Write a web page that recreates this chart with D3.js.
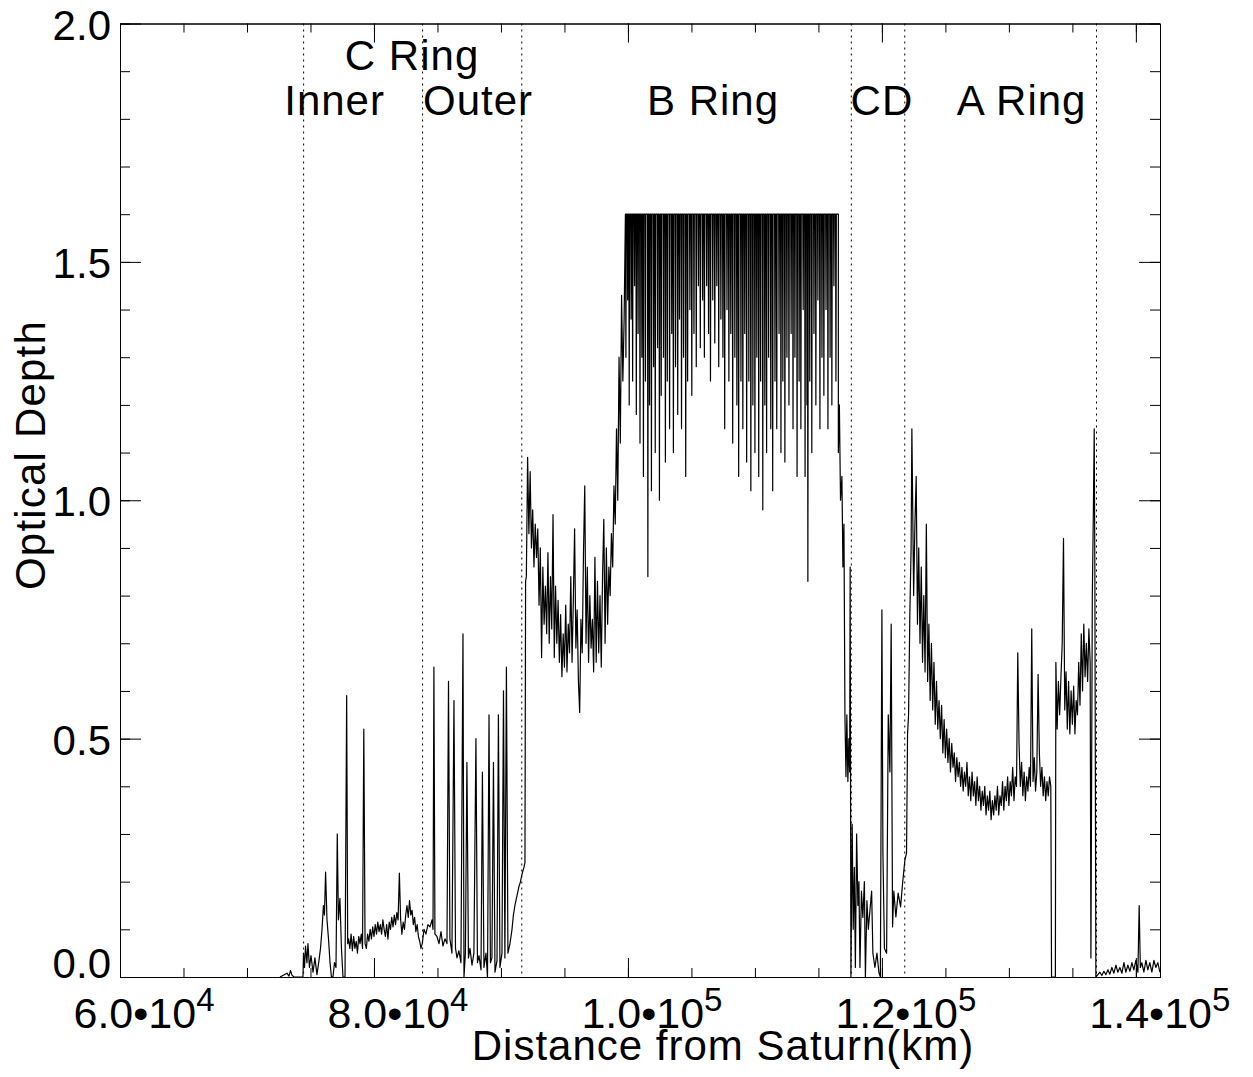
<!DOCTYPE html>
<html>
<head>
<meta charset="utf-8">
<script src="https://cdn.jsdelivr.net/npm/d3@7"></script>
<style>
  body { margin: 0; background: #fff; }
  text { font-family: "Liberation Sans", Arial, Helvetica, sans-serif; fill: #000; }
</style>
</head>
<body>
<div id="chart"></div>
<script>
// radius from Saturn in 1000 km, optical depth
var preRing = [[72.60,0],[73.15,0.008],[73.31,0.002],[73.43,0.014],[73.54,0.004],[73.70,0],[74.41,0]];

var cRingInner = [[74.45,0.05],[74.53,0.02],[74.61,0.065],[74.72,0.03],[74.80,0.07],[74.92,0.02],[75.04,0.045],[75.20,0.01],
  [75.35,0.04],[75.51,0.005],[75.67,0.035],[75.79,0.06],[75.91,0.10],[76.02,0.15],[76.10,0.13],[76.19,0.22],[76.30,0.12],
  [76.42,0.08],[76.54,0.03],[76.65,0],[76.77,0],[76.89,0.03],[77.01,0.02],[77.11,0.30],[77.20,0.12],[77.32,0.165],[77.44,0.06],
  [77.56,0],[77.72,0],[77.85,0.59],[77.93,0.07],
  [78.0,0.08],[78.1,0.06],[78.2,0.09],[78.3,0.055],[78.4,0.085],[78.5,0.06],[78.6,0.075],[78.7,0.05],[78.8,0.085],[78.9,0.07],
  [79.0,0.09],[79.1,0.06],[79.2,0.52],[79.3,0.07],[79.4,0.06],[79.5,0.09],[79.6,0.075],[79.7,0.10],[79.8,0.08],[79.9,0.105],
  [80.0,0.085],[80.1,0.11],[80.2,0.09],[80.3,0.115],[80.4,0.095],[80.5,0.11],[80.6,0.09],[80.7,0.12],[80.8,0.10],[80.9,0.085],
  [81.0,0.11],[81.1,0.08],[81.2,0.115],[81.3,0.10],[81.4,0.125],[81.5,0.105],[81.6,0.13],[81.7,0.11],[81.8,0.135],[81.9,0.12],
  [82.0,0.218],[82.1,0.12],[82.2,0.09],[82.3,0.115],[82.4,0.10],[82.5,0.13],[82.6,0.15],[82.7,0.125],[82.8,0.16],[82.9,0.13],
  [83.0,0.14],[83.1,0.11],[83.2,0.125],[83.3,0.095],[83.4,0.11],[83.5,0.085],[83.6,0.075],[83.7,0.06],[83.8,0.07]];

var cRingOuter = [[83.94,0.10],[84.09,0.09],[84.25,0.11],[84.41,0.105],[84.57,0.12],[84.65,0.10],[84.72,0.65],[84.80,0.09],
  [84.96,0.085],[85.12,0.07],[85.28,0.095],[85.43,0.065],[85.59,0.08],[85.75,0.07],[85.87,0.62],[85.98,0.08],[86.14,0.05],
  [86.30,0.58],[86.42,0.06],[86.54,0.04],[86.69,0.055],[86.85,0.03],[87.01,0.72],[87.09,0],[87.20,0.05],[87.32,0.45],
  [87.44,0.04],[87.56,0.06],[87.72,0.025],[87.87,0.05],[88.03,0.50],[88.15,0.03],[88.27,0.045],[88.43,0.015],[88.54,0.43],
  [88.66,0.02],[88.82,0.05],[88.94,0],[89.06,0.55],[89.17,0.03],[89.29,0.04],[89.41,0.45],[89.53,0.01],[89.69,0.035],
  [89.80,0.55],[89.92,0.02],[90.08,0.05],[90.20,0.60],[90.31,0.04],[90.43,0.65],[90.55,0.05],[90.71,0.07],[90.87,0.10],
  [90.98,0.13],[91.10,0.15],[91.26,0.17],[91.42,0.19],[91.54,0.20],[91.65,0.215],[91.81,0.23],[91.89,0.24]];

var bRingInner = [[91.94,0.83],[92.0,0.84],[92.1,1.09],[92.2,0.93],[92.3,1.06],[92.4,0.90],[92.5,0.98],[92.6,0.86],[92.7,0.95],
  [92.8,0.88],[92.9,0.94],[93.0,0.78],[93.1,0.90],[93.2,0.67],[93.3,0.86],[93.4,0.74],[93.5,0.82],[93.6,0.72],[93.7,0.89],
  [93.8,0.70],[93.9,0.84],[94.0,0.73],[94.1,0.97],[94.2,0.67],[94.3,0.82],[94.4,0.70],[94.5,0.79],[94.6,0.66],[94.7,0.76],
  [94.8,0.63],[94.9,0.72],[95.0,0.65],[95.1,0.78],[95.2,0.64],[95.3,0.74],[95.4,0.68],[95.5,0.84],[95.6,0.66],[95.7,0.79],
  [95.8,0.94],[95.9,0.69],[96.0,0.77],[96.1,0.62],[96.2,0.555],[96.3,0.75],[96.4,0.68],[96.5,0.89],[96.6,1.03],[96.7,0.70],
  [96.8,0.86],[96.9,0.66],[97.0,0.80],[97.1,0.69],[97.2,0.75],[97.3,0.64],[97.4,0.88],[97.5,0.66],[97.6,0.83],[97.7,0.68],
  [97.8,0.80],[97.9,0.65],[98.0,0.84],[98.1,0.96],[98.2,0.70],[98.3,0.90],[98.4,0.74],[98.5,0.86],[98.6,0.80],[98.7,0.93],
  [98.8,0.86],[98.9,1.03],[99.0,0.95],[99.1,1.15],[99.2,1.00],[99.3,1.30],[99.4,1.12],[99.5,1.43],[99.6,1.25],[99.7,1.38],
  [99.8,1.6]];

// B ring is saturated at the top; these are the dips below the saturation level
var bRingSaturation = 1.6;
var bRingDips = [[99.84,1.30],[99.98,1.42],[100.10,1.20],[100.25,1.38],[100.37,1.25],[100.52,1.45],[100.66,1.18],[100.80,1.35],
  [100.95,1.12],[101.10,1.30],[101.22,1.05],[101.38,1.25],[101.57,0.84],[101.70,1.20],[101.85,1.02],[102.02,1.28],[102.15,1.10],
  [102.33,1.32],[102.48,1.00],[102.62,1.22],[102.80,1.30],[102.95,1.08],[103.10,1.25],[103.28,1.15],[103.45,1.35],[103.58,1.10],
  [103.75,1.28],[103.92,1.18],[104.06,1.38],[104.22,1.15],[104.38,1.30],[104.55,1.05],[104.70,1.25],[104.88,1.40],[105.03,1.22],
  [105.20,1.35],[105.38,1.28],[105.55,1.45],[105.70,1.32],[105.88,1.42],[106.02,1.30],[106.20,1.45],[106.35,1.35],[106.50,1.25],
  [106.68,1.42],[106.84,1.33],[107.00,1.45],[107.15,1.28],[107.32,1.38],[107.48,1.30],[107.62,1.15],[107.80,1.40],[107.95,1.25],
  [108.10,1.35],[108.25,1.12],[108.42,1.30],[108.58,1.20],[108.72,1.05],[108.90,1.25],[109.05,1.15],[109.20,1.35],[109.35,1.08],
  [109.52,1.25],[109.68,1.02],[109.84,1.20],[110.00,1.10],[110.15,1.30],[110.30,1.05],[110.45,1.25],[110.62,0.98],[110.78,1.20],
  [110.92,1.10],[111.08,1.30],[111.25,1.15],[111.40,1.02],[111.58,1.25],[111.72,1.15],[111.90,1.35],[112.05,1.10],[112.20,1.25],
  [112.36,1.08],[112.52,1.30],[112.68,1.20],[112.85,1.35],[113.00,1.15],[113.15,1.30],[113.32,1.05],[113.48,1.25],[113.62,1.15],
  [113.80,1.40],[113.95,1.05],[114.10,1.20],[114.17,0.83],[114.32,1.25],[114.48,1.10],[114.65,1.35],[114.80,1.20],[114.96,1.42],
  [115.12,1.15],[115.28,1.30],[115.43,1.22],[115.60,1.40],[115.75,1.15],[115.92,1.30],[116.06,1.20],[116.22,1.45],[116.38,1.25],
  [116.54,1.6]];

var bRingOuter = [[116.57,1.10],[116.65,1.20],[116.74,1.00],[116.85,1.05],[116.93,0.86],[117.01,0.95],[117.09,0.545],[117.17,0.42],
  [117.24,0.55],[117.32,0.41],[117.40,0.50],[117.46,0.43],[117.50,0.86]];

var cassiniDivision = [[117.56,0],[117.66,0.32],[117.74,0.10],[117.83,0.23],[117.91,0.02],[118.01,0.30],[118.11,0.15],
  [118.19,0.20],[118.27,0.02],[118.39,0.18],[118.50,0.125],[118.62,0.20],[118.70,0],[118.82,0.16],[118.93,0.10],[119.06,0.14],
  [119.19,0.18],[119.29,0.05],[119.45,0.02],[119.61,0.05],[119.76,0.01],[119.88,0],[120.00,0.77],[120.08,0.26],[120.20,0.06],
  [120.37,0.05],[120.50,0.55],[120.63,0.43],[120.73,0.74],[120.84,0.105],[120.94,0.18],[121.10,0.126],[121.28,0.176],
  [121.47,0.147],[121.63,0.197],[121.81,0.245],[121.94,0.26]];

var aRing = [[122.02,0.51],[122.1,0.55],[122.2,0.76],[122.3,0.90],[122.36,1.15],[122.5,0.80],[122.6,0.95],[122.7,1.05],[122.8,0.74],
  [122.9,0.90],[123.0,0.70],[123.1,0.86],[123.2,0.66],[123.3,0.80],[123.4,0.64],[123.5,0.95],[123.6,0.62],[123.7,0.74],
  [123.8,0.58],[123.9,0.70],[124.0,0.56],[124.1,0.66],[124.2,0.53],[124.3,0.62],[124.4,0.52],[124.5,0.58],[124.6,0.50],
  [124.7,0.57],[124.8,0.47],[124.9,0.54],[125.0,0.46],[125.1,0.52],[125.2,0.45],[125.3,0.50],[125.4,0.43],[125.5,0.49],
  [125.6,0.44],[125.7,0.47],[125.8,0.41],[125.9,0.46],[126.0,0.42],[126.1,0.45],[126.2,0.40],[126.3,0.44],[126.4,0.39],
  [126.5,0.43],[126.6,0.40],[126.7,0.45],[126.8,0.38],[126.9,0.42],[127.0,0.37],[127.1,0.43],[127.2,0.38],[127.3,0.41],
  [127.4,0.36],[127.5,0.42],[127.6,0.37],[127.7,0.40],[127.8,0.35],[127.9,0.39],[128.0,0.36],[128.1,0.40],[128.2,0.34],
  [128.3,0.38],[128.4,0.35],[128.5,0.39],[128.6,0.33],[128.7,0.37],[128.8,0.34],[128.9,0.38],[129.0,0.35],[129.1,0.40],
  [129.2,0.34],[129.3,0.38],[129.4,0.36],[129.5,0.41],[129.6,0.35],[129.7,0.40],[129.8,0.37],[129.9,0.42],[130.0,0.36],
  [130.1,0.41],[130.2,0.38],[130.3,0.44],[130.4,0.37],[130.5,0.42],[130.6,0.40],[130.7,0.68],[130.8,0.49],[130.9,0.40],
  [131.0,0.45],[131.1,0.38],[131.2,0.43],[131.3,0.37],[131.4,0.42],[131.5,0.39],[131.6,0.44],[131.7,0.40],[131.8,0.73],
  [131.9,0.41],[132.0,0.46],[132.1,0.39],[132.2,0.43],[132.3,0.635],[132.4,0.47],[132.5,0.40],[132.6,0.44],[132.7,0.38],
  [132.8,0.42],[132.9,0.37],[133.0,0.41],[133.1,0.38],[133.2,0.42],[133.3,0.40],[133.36,0],[133.46,0],[133.66,0],
  [133.7,0.66],[133.8,0.52],[133.9,0.62],[134.0,0.55],[134.1,0.63],[134.2,0.70],[134.3,0.92],[134.4,0.56],[134.5,0.64],
  [134.6,0.52],[134.7,0.62],[134.8,0.51],[134.9,0.60],[135.0,0.53],[135.1,0.61],[135.2,0.51],[135.3,0.58],[135.4,0.55],
  [135.5,0.66],[135.6,0.57],[135.7,0.72],[135.8,0.60],[135.9,0.74],[136.0,0.63],[136.1,0.70],[136.2,0.62],[136.3,0.73],
  [136.4,0.66],[136.46,0.04],[136.57,0.80],[136.65,0.97],[136.72,1.15],[136.77,0.85],[136.85,0]];

var outerRegion = [[137.01,0.005],[137.17,0.01],[137.32,0.003],[137.48,0.012],[137.64,0.005],[137.80,0.015],[137.95,0.006],
  [138.11,0.02],[138.27,0.008],[138.43,0.025],[138.58,0.01],[138.74,0.02],[138.90,0.008],[139.06,0.03],[139.21,0.01],
  [139.37,0.025],[139.53,0.012],[139.69,0.03],[139.84,0.015],[140.00,0.035],[140.16,0.01],[140.26,0.15],[140.35,0.02],
  [140.47,0.03],[140.63,0.01],[140.79,0.035],[140.94,0.015],[141.10,0.03],[141.26,0.01],[141.42,0.035],[141.57,0.02],
  [141.73,0.03],[141.89,0.01]];

// ring boundaries (1000 km) and labels
var ringEdges = [74.46, 83.83, 91.64, 117.59, 121.80, 136.90];
var ringLabels = [
  {text: "C Ring", r: 83.0, row: 0},
  {text: "Inner", r: 76.9, row: 1},
  {text: "Outer", r: 88.2, row: 1},
  {text: "B Ring", r: 106.7, row: 1},
  {text: "CD", r: 120.0, row: 1},
  {text: "A Ring", r: 131.0, row: 1}
];

var xMajor = [60, 80, 100, 120, 140];
var xMantissa = ["6.0", "8.0", "1.0", "1.2", "1.4"];
var xExponent = ["4", "4", "5", "5", "5"];
var yMajor = [0, 0.5, 1.0, 1.5, 2.0];
var yLabels = ["0.0", "0.5", "1.0", "1.5", "2.0"];

// saturated part of the B ring: each dip drops from the saturation level and comes back
var bRingSaturated = [];
bRingDips.forEach(function(d) {
  bRingSaturated.push([d[0] - 0.03, bRingSaturation]);
  bRingSaturated.push(d);
  bRingSaturated.push([d[0] + 0.03, bRingSaturation]);
});

var profile = [].concat(preRing, cRingInner, cRingOuter, bRingInner, bRingSaturated, bRingOuter,
                        cassiniDivision, aRing, outerRegion);

var width = 1253, height = 1077;
var plotLeft = 120, plotRight = 1160, plotTop = 23.5, plotBottom = 977;

var svg = d3.select("#chart").append("svg")
    .attr("width", width)
    .attr("height", height);

var x = d3.scaleLinear().domain([60000, 141900]).range([plotLeft, plotRight]);
var y = d3.scaleLinear().domain([0, 2]).range([plotBottom, plotTop]);

svg.append("clipPath").attr("id", "plotclip")
  .append("rect")
    .attr("x", plotLeft).attr("y", plotTop)
    .attr("width", plotRight - plotLeft).attr("height", plotBottom - plotTop);

// dotted ring boundaries
svg.selectAll("line.edge")
  .data(ringEdges)
  .enter()
  .append("line")
    .attr("class", "edge")
    .attr("x1", function(d) { return x(d * 1000); })
    .attr("x2", function(d) { return x(d * 1000); })
    .attr("y1", plotTop)
    .attr("y2", plotBottom)
    .attr("stroke", "#000")
    .attr("stroke-width", 1)
    .attr("stroke-dasharray", "2,4");

// optical depth profile
var line = d3.line()
    .x(function(d) { return x(d[0] * 1000); })
    .y(function(d) { return y(d[1]); });

svg.append("path")
    .datum(profile)
    .attr("clip-path", "url(#plotclip)")
    .attr("fill", "none")
    .attr("stroke", "#000")
    .attr("stroke-width", 1.2)
    .attr("stroke-linejoin", "round")
    .attr("d", line);

// axes: major and minor ticks on all four sides, pointing inward
var xMinorVals = d3.range(60000, 141901, 5000);
var yMinorVals = d3.range(0, 2.001, 0.1);
var xMajorVals = xMajor.map(function(d) { return d * 1000; });

function drawAxis(axisFn, scale, vals, size, tx, ty) {
  var g = svg.append("g")
      .attr("transform", "translate(" + tx + "," + ty + ")")
      .call(axisFn(scale).tickValues(vals).tickSize(size).tickSizeOuter(0).tickFormat(""));
  g.selectAll("line").attr("stroke", "#000");
  g.select(".domain").attr("stroke", "#000");
}

drawAxis(d3.axisBottom, x, xMinorVals, -9, 0, plotBottom);
drawAxis(d3.axisBottom, x, xMajorVals, -19, 0, plotBottom);
drawAxis(d3.axisTop, x, xMinorVals, -9, 0, plotTop);
drawAxis(d3.axisTop, x, xMajorVals, -19, 0, plotTop);
drawAxis(d3.axisLeft, y, yMinorVals, -10, plotLeft, 0);
drawAxis(d3.axisLeft, y, yMajor, -21, plotLeft, 0);
drawAxis(d3.axisRight, y, yMinorVals, -10, plotRight, 0);
drawAxis(d3.axisRight, y, yMajor, -21, plotRight, 0);

// y tick labels
svg.selectAll("text.ylab")
  .data(yMajor)
  .enter()
  .append("text")
    .attr("class", "ylab")
    .attr("x", 111)
    .attr("y", function(d) { return d === 0 ? y(d) + 1 : y(d) + 16; })
    .attr("text-anchor", "end")
    .attr("font-size", 42)
    .text(function(d, i) { return yLabels[i]; });

// x tick labels with exponents
var xl = svg.selectAll("text.xlab")
  .data(xMajor)
  .enter()
  .append("text")
    .attr("class", "xlab")
    .attr("x", function(d) { return x(d * 1000) + 24; })
    .attr("y", 1028)
    .attr("text-anchor", "middle")
    .attr("font-size", 43);
xl.append("tspan").text(function(d, i) { return xMantissa[i] + "\u2022" + "10"; });
xl.append("tspan")
    .attr("font-size", 33)
    .attr("dy", -17)
    .text(function(d, i) { return xExponent[i]; });

// axis titles
svg.append("text")
    .attr("x", 723)
    .attr("y", 1060)
    .attr("text-anchor", "middle")
    .attr("font-size", 42)
    .attr("letter-spacing", 1)
    .text("Distance from Saturn(km)");

svg.append("text")
    .attr("transform", "translate(45,455) rotate(-90)")
    .attr("text-anchor", "middle")
    .attr("font-size", 42)
    .attr("letter-spacing", 1.2)
    .text("Optical Depth");

// ring names
svg.selectAll("text.ring")
  .data(ringLabels)
  .enter()
  .append("text")
    .attr("class", "ring")
    .attr("x", function(d) { return x(d.r * 1000); })
    .attr("y", function(d) { return d.row === 0 ? 70 : 115; })
    .attr("text-anchor", "middle")
    .attr("font-size", 42)
    .attr("letter-spacing", 1)
    .text(function(d) { return d.text; });
</script>
</body>
</html>
